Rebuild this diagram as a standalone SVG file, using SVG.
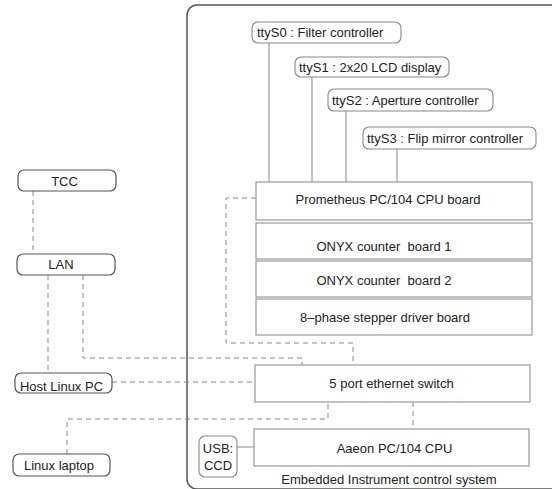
<svg xmlns="http://www.w3.org/2000/svg" width="552" height="489" viewBox="0 0 552 489">
<style>
text{font-family:"Liberation Sans",Arial,sans-serif;font-size:13px;fill:#222;white-space:pre}
.c{text-anchor:middle}
.rn{fill:#fff;stroke:#555;stroke-width:1.2}
.tn{fill:#fff;stroke:#888;stroke-width:1.1}
.bd{fill:#fff;stroke:#999;stroke-width:1.2}
.sl{fill:none;stroke:#888;stroke-width:1}
.dl{fill:none;stroke:#888;stroke-width:1;stroke-dasharray:5,4}
</style>
<rect width="552" height="489" fill="#fff"/>
<rect id="container" x="187" y="5" width="420" height="484" rx="10" fill="none" stroke="#555" stroke-width="1.5"/>
<g id="connectors">
<line class="sl" x1="269" y1="43" x2="269" y2="182"/>
<line class="sl" x1="312" y1="77" x2="312" y2="182"/>
<line class="sl" x1="346" y1="111" x2="346" y2="182"/>
<line class="sl" x1="397" y1="149" x2="397" y2="182"/>
<line class="sl" x1="237" y1="447" x2="254" y2="447"/>
<polyline class="dl" points="256,198 226,198 226,343 353,343 353,365"/>
<polyline class="dl" points="83,275 83,358 302,358 302,365"/>
<line class="dl" x1="33" y1="191" x2="33" y2="254"/>
<line class="dl" x1="48" y1="275" x2="48" y2="373"/>
<line class="dl" x1="112" y1="382" x2="255" y2="382"/>
<polyline class="dl" points="67,454 67,419 328,419 328,402"/>
<line class="dl" x1="413" y1="402" x2="413" y2="429"/>
</g>
<g id="ttyS0"><rect class="tn" x="252" y="22" width="149" height="21" rx="6"/><text x="257" y="37">ttyS0 : Filter controller</text></g>
<g id="ttyS1"><rect class="tn" x="295" y="57" width="154" height="20" rx="6"/><text x="299" y="72">ttyS1 : 2x20 LCD display</text></g>
<g id="ttyS2"><rect class="tn" x="328" y="89" width="165" height="22" rx="6"/><text x="332" y="104.5">ttyS2 : Aperture controller</text></g>
<g id="ttyS3"><rect class="tn" x="363" y="127" width="173" height="22" rx="6"/><text x="367" y="142.5">ttyS3 : Flip mirror controller</text></g>
<g id="prometheus"><rect class="bd" x="256" y="182" width="276" height="38"/><text class="c" x="388" y="204">Prometheus PC/104 CPU board</text></g>
<g id="onyx1"><rect class="bd" x="256" y="223" width="276" height="36"/><text class="c" x="384" y="251">ONYX counter  board 1</text></g>
<g id="onyx2"><rect class="bd" x="256" y="261" width="276" height="36"/><text class="c" x="384" y="284.5">ONYX counter  board 2</text></g>
<g id="stepper"><rect class="bd" x="256" y="299" width="276" height="36"/><text class="c" x="385" y="322">8&#8211;phase stepper driver board</text></g>
<g id="switch"><rect class="bd" x="255" y="365" width="275" height="37"/><text class="c" x="391.5" y="387.5">5 port ethernet switch</text></g>
<g id="aaeon"><rect class="bd" x="254" y="429" width="275" height="37"/><text class="c" x="394.5" y="452.5">Aaeon PC/104 CPU</text></g>
<g id="usbccd"><rect class="tn" x="199" y="436" width="38" height="41" rx="6"/><text class="c" x="218" y="453">USB:</text><text class="c" x="218" y="470">CCD</text></g>
<g id="tcc"><rect class="rn" x="18" y="170" width="98" height="21" rx="6"/><text class="c" x="64.5" y="185.5">TCC</text></g>
<g id="lan"><rect class="rn" x="17" y="254" width="98" height="21" rx="6"/><text class="c" x="61" y="269">LAN</text></g>
<g id="host"><rect class="rn" x="15" y="373" width="97" height="20" rx="6"/><text class="c" x="61.5" y="390.5">Host Linux PC</text></g>
<g id="laptop"><rect class="rn" x="13" y="454" width="97" height="22" rx="6"/><text class="c" x="59" y="469.5">Linux laptop</text></g>
<text id="label" class="c" x="389" y="483.5">Embedded Instrument control system</text>
</svg>
